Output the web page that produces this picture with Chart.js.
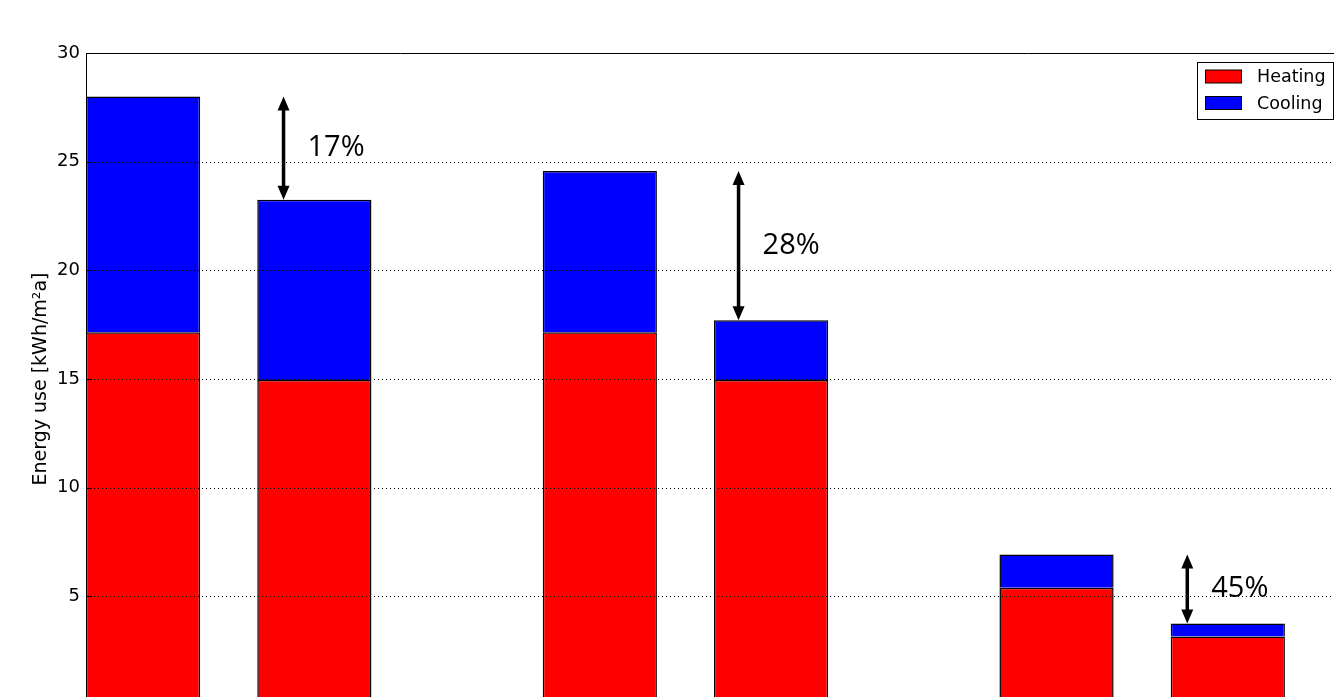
<!DOCTYPE html>
<html>
<head>
<meta charset="utf-8">
<script src="https://cdn.jsdelivr.net/npm/chart.js@4.4.1/dist/chart.umd.min.js"></script>
<style>
  html, body { margin: 0; padding: 0; overflow: hidden; background: #fff; }
  #wrap { position: relative; width: 1360px; height: 740px; }
</style>
</head>
<body>
<div id="wrap"><canvas id="c" width="1360" height="740"></canvas></div>
<script>
// ---- data ----
const slots = [1, 4, 9, 12, 17, 20];            // bar slot positions on the x axis
const heating = [17.15, 14.95, 17.15, 14.95, 5.4, 3.15];
const cooling = [10.85, 8.3, 7.42, 2.75, 1.52, 0.6];
const yTicks = [0, 5, 10, 15, 20, 25, 30];
const seriesNames = ['Heating', 'Cooling'];
const yTitle = 'Energy use [kWh/m\u00B2a]';
// reduction annotations: pair of bars compared, arrow x position, label
const arrowPairs = [[0, 1], [2, 3], [4, 5]];
const arrowX = [3.46, 11.43, 19.29];
const percentLabels = ['17%', '28%', '45%'];

const totals = heating.map((h, i) => h + cooling[i]);

const overlay = {
  id: 'overlay',
  afterDatasetsDraw(chart) {
    const { ctx, chartArea: a, scales: { x, y } } = chart;
    ctx.save();
    // dotted grid lines (drawn over bars like classic matplotlib)
    ctx.strokeStyle = '#000';
    ctx.lineWidth = 1;
    ctx.setLineDash([1, 3]);
    yTicks.forEach(v => {
      if (v === 0 || v === 30) return;
      const py = Math.round(y.getPixelForValue(v)) + 0.5;
      ctx.beginPath(); ctx.moveTo(a.left, py); ctx.lineTo(a.right, py); ctx.stroke();
    });
    ctx.setLineDash([]);
    // frame
    ctx.strokeStyle = '#000';
    ctx.beginPath();
    ctx.moveTo(a.left + 0.5, a.bottom); ctx.lineTo(a.left + 0.5, a.top + 0.5);
    ctx.lineTo(a.right - 0.5, a.top + 0.5); ctx.lineTo(a.right - 0.5, a.bottom);
    ctx.stroke();
    // inward ticks
    yTicks.forEach(v => {
      const py = Math.round(y.getPixelForValue(v)) + 0.5;
      ctx.beginPath(); ctx.moveTo(a.left, py); ctx.lineTo(a.left + 6, py);
      ctx.moveTo(a.right, py); ctx.lineTo(a.right - 6, py); ctx.stroke();
    });
    // arrows + labels
    arrowPairs.forEach((p, k) => {
      const px = x.getPixelForValue(arrowX[k]);
      const y1 = y.getPixelForValue(totals[p[0]]);
      const y2 = y.getPixelForValue(totals[p[1]]);
      const hl = 14, hw = 6;
      ctx.fillStyle = '#000';
      ctx.lineWidth = 3.5;
      ctx.beginPath(); ctx.moveTo(px, y1 + hl - 1); ctx.lineTo(px, y2 - hl + 1); ctx.stroke();
      ctx.beginPath(); ctx.moveTo(px, y1); ctx.lineTo(px - hw, y1 + hl); ctx.lineTo(px + hw, y1 + hl); ctx.closePath(); ctx.fill();
      ctx.beginPath(); ctx.moveTo(px, y2); ctx.lineTo(px - hw, y2 - hl); ctx.lineTo(px + hw, y2 - hl); ctx.closePath(); ctx.fill();
      ctx.font = '29px "Open Sans"';
      ctx.textAlign = 'left';
      ctx.textBaseline = 'alphabetic';
      ctx.fillText(percentLabels[k], px + 24, (y1 + y2) / 2 + 8);
    });
    // legend
    const ds = chart.data.datasets;
    const bx = a.right - 145, by = a.top + 9.5, bw = 136, bh = 57;
    ctx.lineWidth = 1;
    ctx.fillStyle = '#fff';
    ctx.fillRect(bx + 0.5, by, bw, bh);
    ctx.strokeStyle = '#000';
    ctx.strokeRect(bx + 0.5, by, bw, bh);
    ctx.font = '17.5px "DejaVu Sans"';
    ctx.textBaseline = 'middle';
    ds.forEach((d, i) => {
      const cy = by + 14 + i * 26.5;
      ctx.fillStyle = d.backgroundColor;
      ctx.fillRect(bx + 8.5, cy - 6.5, 36, 13);
      ctx.strokeRect(bx + 8.5, cy - 6.5, 36, 13);
      ctx.fillStyle = '#000';
      ctx.fillText(d.label, bx + 60, cy + 1);
    });
    ctx.restore();
  }
};

new Chart(document.getElementById('c'), {
  type: 'bar',
  data: {
    datasets: [
      { label: seriesNames[0], data: slots.map((s, i) => ({ x: s, y: heating[i] })),
        backgroundColor: '#ff0000', borderColor: '#000', borderWidth: 1.5, borderSkipped: false },
      { label: seriesNames[1], data: slots.map((s, i) => ({ x: s, y: cooling[i] })),
        backgroundColor: '#0000ff', borderColor: '#000', borderWidth: 1.5, borderSkipped: 'start' }
    ]
  },
  options: {
    responsive: false,
    animation: false,
    devicePixelRatio: 1,
    layout: { padding: { top: 53, right: 18, bottom: 35, left: 0 } },
    datasets: { bar: { categoryPercentage: 1, barPercentage: 2 / 3 } },
    plugins: { legend: { display: false }, tooltip: { enabled: false } },
    scales: {
      x: {
        type: 'linear', min: 0, max: 22, offset: false, stacked: true, display: false,
        afterBuildTicks: s => { s.ticks = [{ value: 0 }, { value: 22 }]; }
      },
      y: {
        stacked: true, min: 0, max: 30,
        afterBuildTicks: s => { s.ticks = yTicks.map(v => ({ value: v })); },
        afterFit: s => { s.width = 86; },
        grid: { display: false, drawTicks: false },
        border: { display: false },
        ticks: { color: '#000', padding: 6, font: { family: 'DejaVu Sans', size: 18 } },
        title: { display: true, text: yTitle, color: '#000', padding: { top: 30, bottom: 0 },
                 font: { family: 'DejaVu Sans', size: 19 } }
      }
    }
  },
  plugins: [overlay]
});
</script>
</body>
</html>
